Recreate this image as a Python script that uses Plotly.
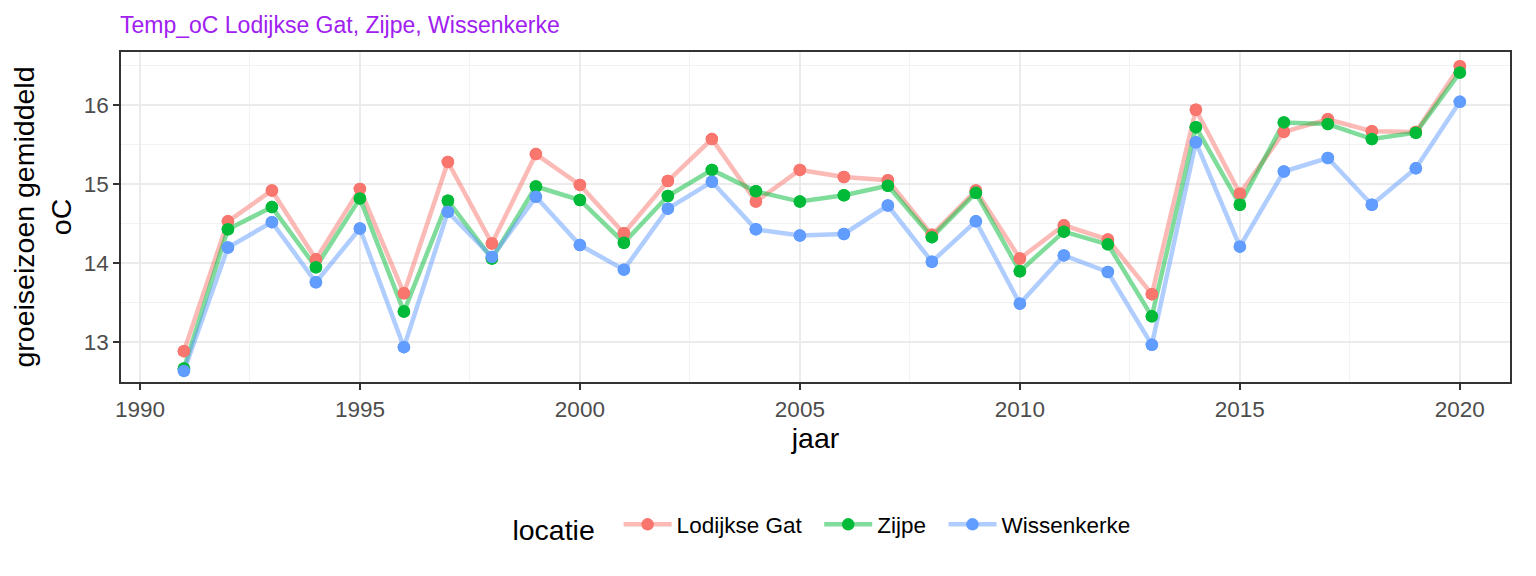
import plotly.graph_objects as go

years = list(range(1991, 2021))
lodijkse_gat = [12.89, 14.53, 14.92, 14.05, 14.94, 13.62, 15.28, 14.25, 15.38, 14.99,
                14.38, 15.04, 15.57, 14.78, 15.18, 15.09, 15.05, 14.36, 14.92, 14.06,
                14.48, 14.30, 13.61, 15.94, 14.88, 15.66, 15.82, 15.67, 15.66, 16.49]
zijpe = [12.67, 14.43, 14.71, 13.95, 14.82, 13.39, 14.79, 14.06, 14.97, 14.80,
         14.26, 14.85, 15.18, 14.91, 14.78, 14.86, 14.98, 14.33, 14.89, 13.90,
         14.40, 14.24, 13.33, 15.72, 14.74, 15.78, 15.76, 15.57, 15.65, 16.41]
wissenkerke = [12.64, 14.20, 14.52, 13.76, 14.44, 12.94, 14.65, 14.08, 14.84, 14.23,
               13.92, 14.69, 15.03, 14.43, 14.35, 14.37, 14.73, 14.02, 14.53, 13.49,
               14.10, 13.89, 12.97, 15.53, 14.21, 15.16, 15.33, 14.74, 15.20, 16.04]

series = [
    ("Lodijkse Gat", lodijkse_gat, "#F8766D", "rgba(248,118,109,0.5)"),
    ("Zijpe", zijpe, "#00BA38", "rgba(0,186,56,0.5)"),
    ("Wissenkerke", wissenkerke, "#619CFF", "rgba(97,156,255,0.5)"),
]

FONT = "Liberation Sans, Arial, sans-serif"
W, H = 1520, 560  # page body adds an 8px offset

fig = go.Figure()
for name, vals, col, lcol in series:
    fig.add_trace(go.Scatter(
        x=years, y=vals, name=name + "  ", mode="lines+markers",
        line=dict(color=lcol, width=4.5),
        marker=dict(color=col, size=12.5),
    ))
for name, vals, col, lcol in series:
    fig.add_trace(go.Scatter(
        x=years, y=vals, name=name, mode="markers", showlegend=False,
        marker=dict(color=col, size=12.5), hoverinfo="skip",
    ))

axis_common = dict(
    showline=True, linecolor="#333333", linewidth=1.6, mirror=True,
    ticks="outside", ticklen=6, tickcolor="#333333", tickwidth=1.6,
    tickfont=dict(size=22.5, color="#4D4D4D", family=FONT),
    gridcolor="#EBEBEB", gridwidth=1.6, zeroline=False,
)

fig.update_layout(
    width=W, height=H,
    margin=dict(l=113, r=18, t=44, b=186),
    paper_bgcolor="white", plot_bgcolor="white",
    font=dict(family=FONT, color="black"),
    title=dict(text="Temp_oC Lodijkse Gat, Zijpe, Wissenkerke",
               font=dict(size=23, color="#A020F0", family=FONT),
               x=(120 - 8) / W, xanchor="left", y=1 - (25 - 8) / H, yanchor="middle"),
    xaxis=dict(range=[1989.57, 2021.14], tick0=1990, dtick=5,
               minor=dict(dtick=2.5, tick0=1990, showgrid=True, gridcolor="#F2F2F2", gridwidth=0.9, ticks=""),
               title=dict(text="jaar", font=dict(size=28.5, family=FONT), standoff=6),
               **axis_common),
    yaxis=dict(range=[12.5, 16.67], tickvals=[13, 14, 15, 16],
               minor=dict(tickvals=[12.5, 13.5, 14.5, 15.5, 16.5], showgrid=True, gridcolor="#F2F2F2", gridwidth=0.9, ticks=""),
               title=dict(text="groeiseizoen gemiddeld<br>oC", font=dict(size=28.5, family=FONT), standoff=8),
               **axis_common),
    legend=dict(orientation="h", x=0.51, xanchor="center", y=-0.44, yanchor="middle",
                title=dict(text="locatie  ", font=dict(size=28.5, family=FONT)),
                font=dict(size=22.5, family=FONT), itemwidth=48,
                traceorder="normal"),
    showlegend=True,
)

fig.write_html("out.html")
